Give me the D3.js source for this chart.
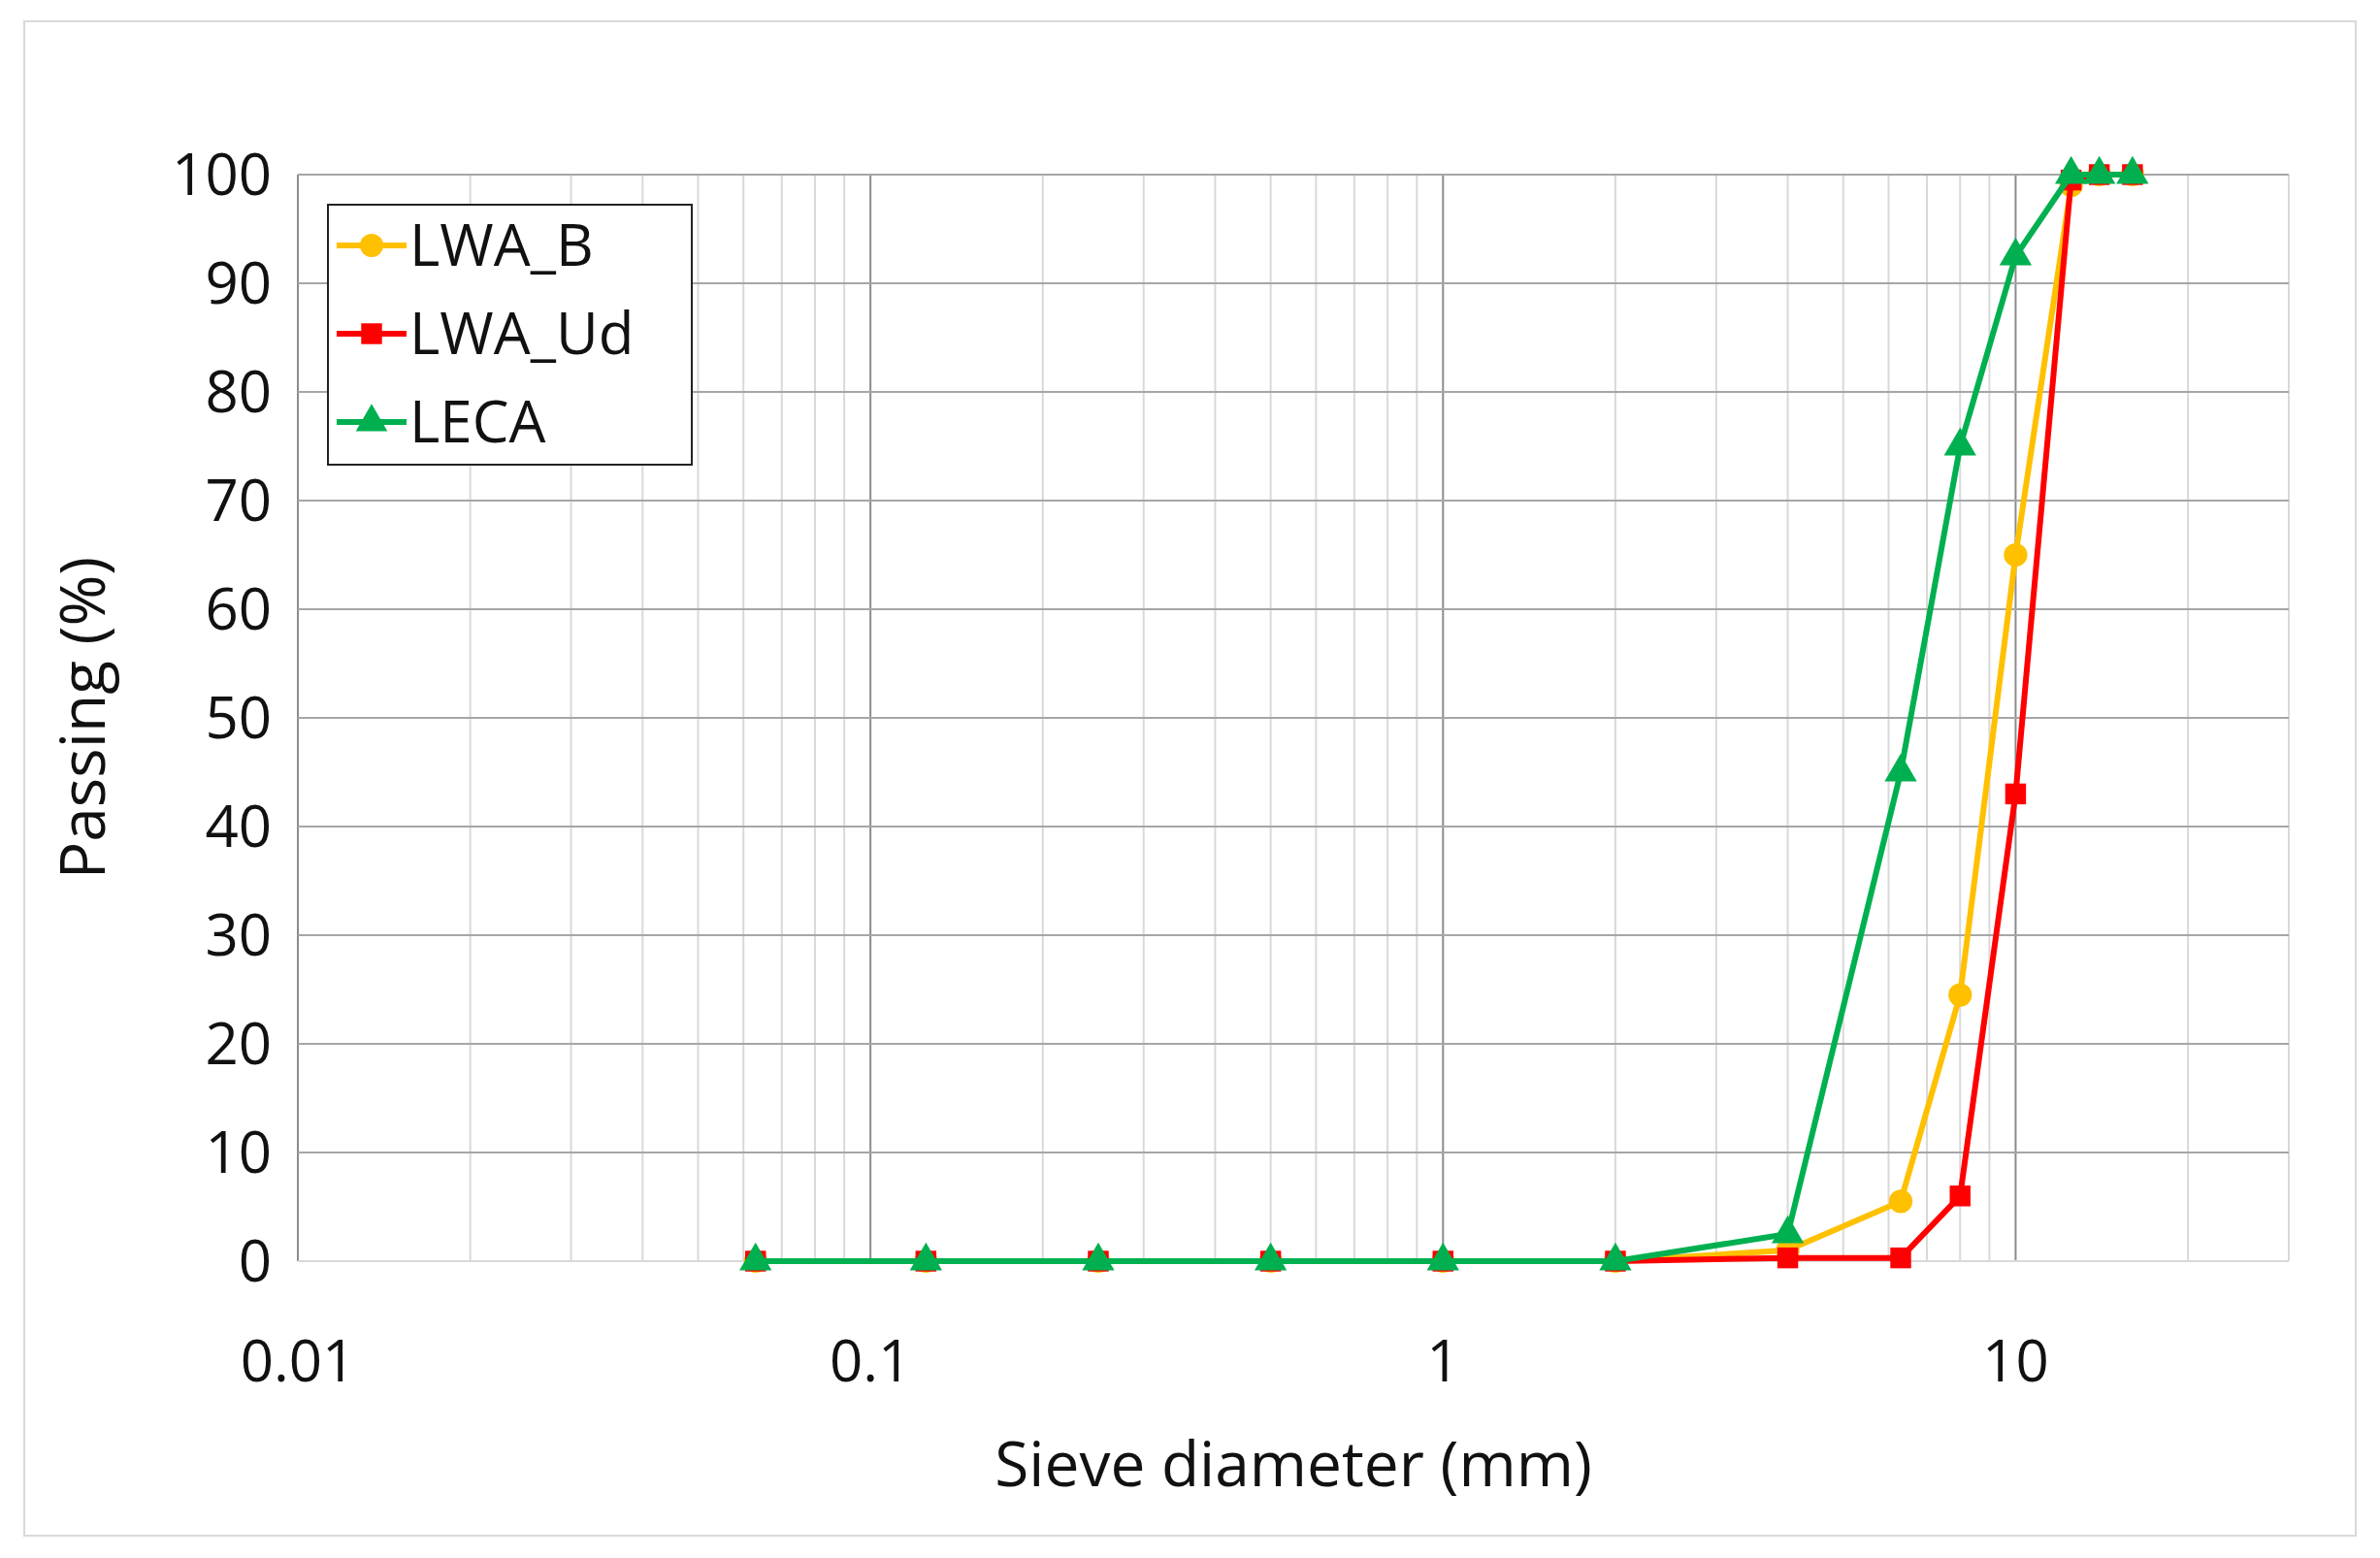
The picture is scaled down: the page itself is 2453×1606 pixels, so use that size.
<!DOCTYPE html><html><head><meta charset="utf-8">
<script src="https://cdn.jsdelivr.net/npm/d3@7"></script>
<style>body{margin:0;background:#fff}</style></head><body>
<svg id="c" width="2453" height="1606"></svg>
<script>
const sieves=[0.063,0.125,0.25,0.5,1,2,4,6.3,8,10,12.5,14,16];
const lwaB=[0,0,0,0,0,0,1,5.5,24.5,65,99,100,100];
const lwaUd=[0,0,0,0,0,0,0.3,0.3,6,43,99.5,100,100];
const leca=[0,0,0,0,0,0,2.5,45,75,92.5,100,100,100];
const seriesNames=["LWA_B","LWA_Ud","LECA"];
const xTicks=[0.01,0.1,1,10];
const yTicks=[0,10,20,30,40,50,60,70,80,90,100];
const colors=["#FFC000","#FF0000","#00B050"];
const shapes=[d3.symbolCircle,d3.symbolSquare,d3.symbolTriangle];
const F="'Open Sans',sans-serif";
const svg=d3.select("#c");
svg.append("rect").attr("x",25).attr("y",22).attr("width",2403).attr("height",1561).attr("fill","#fff").attr("stroke","#d9d9d9").attr("stroke-width",2);
const L=307,R=2359,T=180,B=1300;
const x=d3.scaleLog().domain([0.01,30]).range([L,R]);
const y=d3.scaleLinear().domain([0,100]).range([B,T]);
const g=svg.append("g");
const minor=[];for(let e=-2;e<=1;e++)for(let m=2;m<=9;m++){const v=m*Math.pow(10,e);if(v<30)minor.push(v);}
g.selectAll(".mn").data(minor).enter().append("line").attr("x1",d=>x(d)).attr("x2",d=>x(d)).attr("y1",T).attr("y2",B).attr("stroke","#d9d9d9").attr("stroke-width",2);
g.selectAll(".mj").data(xTicks).enter().append("line").attr("x1",d=>x(d)).attr("x2",d=>x(d)).attr("y1",T).attr("y2",B).attr("stroke","#8c8c8c").attr("stroke-width",2);
g.append("line").attr("x1",R).attr("x2",R).attr("y1",T).attr("y2",B).attr("stroke","#d9d9d9").attr("stroke-width",2);
g.selectAll(".hy").data(yTicks).enter().append("line").attr("x1",L).attr("x2",R).attr("y1",d=>y(d)).attr("y2",d=>y(d)).attr("stroke",d=>d===0?"#d9d9d9":"#a6a6a6").attr("stroke-width",2);
g.selectAll(".yl").data(yTicks).enter().append("text").attr("x",280).attr("y",d=>y(d)).attr("dy","0.35em").attr("text-anchor","end").attr("font-family",F).attr("font-size",60).attr("fill","#111").text(d=>d);
g.selectAll(".xl").data(xTicks).enter().append("text").attr("x",d=>x(d)).attr("y",1403).attr("dy","0.35em").attr("text-anchor","middle").attr("font-family",F).attr("font-size",60).attr("fill","#111").text(d=>String(d));
svg.append("text").attr("x",(L+R)/2).attr("y",1510).attr("dy","0.35em").attr("text-anchor","middle").attr("font-family",F).attr("font-size",64).attr("fill","#111").text("Sieve diameter (mm)");
svg.append("text").attr("transform","translate(86,740) rotate(-90)").attr("dy","0.35em").attr("text-anchor","middle").attr("font-family",F).attr("font-size",64).attr("fill","#111").text("Passing (%)");
const data=[lwaB,lwaUd,leca];
const line=d3.line().x((d,i)=>x(sieves[i])).y(d=>y(d));
data.forEach((s,k)=>{
  g.append("path").datum(s).attr("d",line).attr("fill","none").attr("stroke",colors[k]).attr("stroke-width",6).attr("stroke-linejoin","round");
  g.selectAll(".m"+k).data(s).enter().append("path").attr("d",d3.symbol().type(shapes[k]).size(k===2?480:460)).attr("transform",(d,i)=>`translate(${x(sieves[i])},${y(d)})`).attr("fill",colors[k]);
});
const lg=svg.append("g");
lg.append("rect").attr("x",338).attr("y",211).attr("width",375).attr("height",268).attr("fill","#fff").attr("stroke","#222").attr("stroke-width",2);
seriesNames.forEach((n,k)=>{
  const yy=253+k*91;
  lg.append("line").attr("x1",347).attr("x2",419).attr("y1",yy).attr("y2",yy).attr("stroke",colors[k]).attr("stroke-width",6);
  lg.append("path").attr("d",d3.symbol().type(shapes[k]).size(460)).attr("transform",`translate(383,${yy})`).attr("fill",colors[k]);
  lg.append("text").attr("x",422).attr("y",yy).attr("dy","0.35em").attr("font-family",F).attr("font-size",60).attr("fill","#111").text(n);
});
</script></body></html>
